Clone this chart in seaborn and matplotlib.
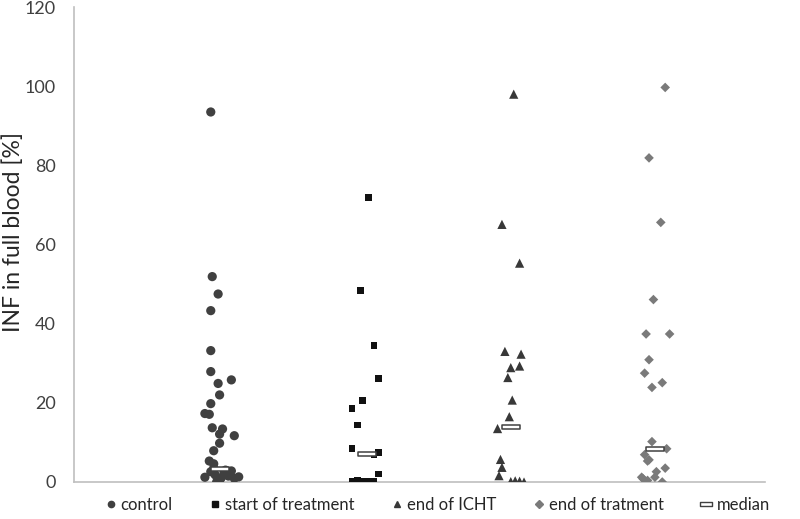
import matplotlib
matplotlib.use("Agg")
import matplotlib.pyplot as plt
from matplotlib.lines import Line2D
from matplotlib.path import Path
import pandas as pd
import seaborn as sns

GROUPS = ["control", "start of treatment", "end of ICHT", "end of tratment"]

# x = category position (1..4) incl. the spread seen in the picture, y = value [%]
CONTROL_X = [0.93, 0.94, 0.98, 0.93, 0.93, 0.93, 1.07, 0.98, 0.99, 0.93, 0.89, 0.92,
             0.94, 1.01, 0.99, 1.09, 0.99, 0.95, 0.92, 0.95,
             0.89, 0.93, 0.96, 0.99, 1.02, 1.05, 1.09, 1.12, 0.97, 1.00, 0.95, 1.03, 1.07]
CONTROL_Y = [93.5, 51.9, 47.5, 43.3, 33.2, 27.9, 25.8, 24.9, 22.0, 19.8, 17.3, 17.1,
             13.7, 13.4, 12.1, 11.7, 9.8, 7.9, 5.3, 4.6,
             1.2, 2.6, 1.8, 0.4, 2.2, 1.5, 0.9, 1.3, 0.0, 1.0, 3.5, 3.0, 2.8]

START_X = [2.00, 1.95, 2.04, 2.07, 1.96, 1.89, 1.93, 1.89, 2.04, 2.07, 2.07,
           1.89, 1.93, 1.97, 2.01, 2.04]
START_Y = [71.8, 48.4, 34.4, 26.2, 20.5, 18.6, 14.4, 8.4, 6.8, 7.5, 2.0,
           0.1, 0.5, 0.2, 0.2, 0.1]

ICHT_X = [2.99, 2.91, 3.03, 2.93, 3.04, 2.97, 3.03, 2.95, 2.98, 2.96, 2.88,
          2.90, 2.91, 2.89, 2.97, 3.00, 3.03, 3.06]
ICHT_Y = [98.0, 65.1, 55.3, 33.0, 32.3, 28.9, 29.3, 26.4, 20.7, 16.5, 13.5,
          5.7, 3.7, 1.6, 0.1, 0.3, 0.2, 0.0]

TRAT_X = [4.02, 3.91, 3.99, 3.94, 3.89, 4.05, 3.91, 3.88, 4.00, 3.93, 3.93,
          4.03, 3.88, 3.90, 3.91, 4.02, 3.96, 3.95, 3.86, 3.87, 3.90, 4.00]
TRAT_Y = [99.7, 81.9, 65.6, 46.1, 37.4, 37.4, 30.9, 27.5, 25.1, 23.9, 10.2,
          8.4, 6.9, 5.3, 5.6, 3.5, 2.6, 1.2, 1.2, 0.8, 0.4, 0.0]

MEDIAN_X = [0.99, 1.99, 2.97, 3.95]
MEDIAN_Y = [3.3, 7.2, 13.9, 8.4]

Y_TICKS = [0, 20, 40, 60, 80, 100, 120]

COLORS = {"control": "#404040", "start of treatment": "#111111",
          "end of ICHT": "#383838", "end of tratment": "#7a7a7a"}
MARKERS = {"control": "o", "start of treatment": "s",
           "end of ICHT": "^", "end of tratment": "D"}
SIZES = {"control": 44, "start of treatment": 24,
         "end of ICHT": 44, "end of tratment": 24}
TEXT = "#262626"
AXIS = "#bfbfbf"

MEDIAN_MARKER = Path([(-1, -0.28), (1, -0.28), (1, 0.28), (-1, 0.28), (-1, -0.28)],
                     [Path.MOVETO, Path.LINETO, Path.LINETO, Path.LINETO, Path.CLOSEPOLY])

sns.set_theme(style="white")
plt.rcParams["font.family"] = ["Lato", "DejaVu Sans"]

frames = []
for name, xs, ys in [("control", CONTROL_X, CONTROL_Y),
                     ("start of treatment", START_X, START_Y),
                     ("end of ICHT", ICHT_X, ICHT_Y),
                     ("end of tratment", TRAT_X, TRAT_Y)]:
    frames.append(pd.DataFrame({"group": name, "x": xs, "y": ys}))
df = pd.concat(frames, ignore_index=True)
med = pd.DataFrame({"x": MEDIAN_X, "y": MEDIAN_Y})

fig = plt.figure(figsize=(8, 5.19), dpi=100)
ax = fig.add_axes([0.0925, 0.0713, 0.864, 0.915])

sns.scatterplot(data=df, x="x", y="y", hue="group", style="group", size="group",
                palette=COLORS, markers=MARKERS, sizes=SIZES, hue_order=GROUPS,
                linewidth=0, legend=False, ax=ax, zorder=3)
sns.scatterplot(data=med, x="x", y="y", marker=MEDIAN_MARKER, s=150,
                color="white", edgecolor="#404040", linewidth=1.1, legend=False,
                ax=ax, zorder=4)

ax.set_xlim(0, 4.7)
ax.set_ylim(0, 120)
ax.set_yticks(Y_TICKS)
ax.set_xticks([])
ax.set_xlabel("")
ax.set_ylabel("INF in full blood [%]", fontsize=16.5, color=TEXT)
ax.yaxis.set_label_coords(-0.072, 0.526)
ax.tick_params(axis="y", length=0, pad=13, labelsize=13, labelcolor="#404040")
for side in ["top", "right"]:
    ax.spines[side].set_visible(False)
for side in ["left", "bottom"]:
    ax.spines[side].set_color(AXIS)
    ax.spines[side].set_linewidth(1.2)
ax.grid(False)

handles = [Line2D([], [], linestyle="none", marker=MARKERS[g], color=COLORS[g],
                  markersize=4.5 if g != "start of treatment" else 4, label=g)
           for g in GROUPS]
handles.append(Line2D([], [], linestyle="none", marker=MEDIAN_MARKER, markersize=9,
                      markerfacecolor="white", markeredgecolor="#404040",
                      markeredgewidth=1, label="median"))
fig.legend(handles=handles, loc="center", bbox_to_anchor=(0.545, 0.027), ncol=5,
           frameon=False, fontsize=12, handletextpad=0.1, columnspacing=2.05,
           handlelength=1.0, labelcolor=TEXT)

fig.savefig("out.png", dpi=100, facecolor="white")
